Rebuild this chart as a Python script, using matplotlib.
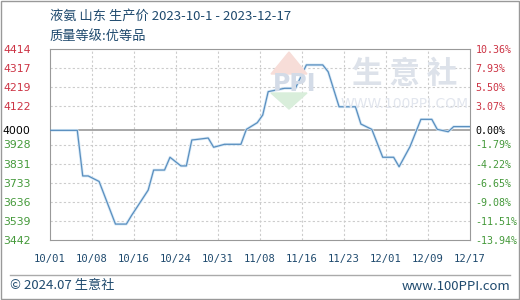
import numpy as np
import matplotlib.pyplot as plt
from matplotlib.patches import Rectangle, Polygon
from matplotlib.lines import Line2D

plt.rcParams['font.family'] = ['Noto Sans CJK SC', 'DejaVu Sans']

# 数据 (day offset from 2023-10-01, price)
days = [0, 5, 6, 7, 9, 12, 14, 15, 16, 18, 19, 21, 22, 24, 25, 26, 27, 29, 30,
        32, 35, 36, 38, 39, 40, 43, 45, 47, 50, 51, 53, 56, 57, 59, 61, 63, 64,
        66, 68, 70, 71, 73, 74, 77]
prices = [4000, 4000, 3768, 3768, 3740, 3523, 3523, 3569, 3611, 3696, 3798, 3798,
          3863, 3819, 3819, 3951, 3954, 3961, 3914, 3929, 3929, 4005, 4039, 4078,
          4197, 4214, 4214, 4333, 4333, 4298, 4120, 4120, 4032, 4005, 3863, 3863,
          3815, 3917, 4056, 4056, 4005, 3993, 4019, 4019]
base = 4000
ytick_vals = [4414, 4317, 4219, 4122, 4000, 3928, 3831, 3733, 3636, 3539, 3442]
pct_labels = ['10.36%', '7.93%', '5.50%', '3.07%', '0.00%', '-1.79%', '-4.22%',
              '-6.65%', '-9.08%', '-11.51%', '-13.94%']
xtick_labels = ['10/01', '10/08', '10/16', '10/24', '10/31', '11/08', '11/16',
                '11/23', '12/01', '12/09', '12/17']

red = '#cc3344'
green = '#44993a'
navy = '#1f4a6e'

fig = plt.figure(figsize=(5.2, 3.0), dpi=100)
fig.patch.set_facecolor('white')
fig.add_artist(Rectangle((0.001, 0.002), 0.997, 0.995, transform=fig.transFigure,
                         fill=False, edgecolor='#999999', lw=1))
fig.add_artist(Line2D([10 / 520, 510 / 520], [25 / 300, 25 / 300],
                      transform=fig.transFigure, color='#aaaaaa', lw=1))

ax = fig.add_axes([50 / 520, 60 / 300, 420 / 520, 191 / 300])
xticks = np.linspace(0, 77, 11)
ax.set_xlim(0, 77)
ax.set_ylim(3442, 4414)

for x in xticks[1:-1]:
    ax.axvline(x, color='#cccccc', lw=0.8, ls=(0, (2, 2)), zorder=0)
for y in ytick_vals[1:-1]:
    if y != base:
        ax.axhline(y, color='#cccccc', lw=0.8, ls=(0, (2, 2)), zorder=0)
ax.axhline(base, color='#999999', lw=1.2, zorder=1)

# watermark
fig.add_artist(Polygon([[271 / 520, 1 - 74 / 300], [307 / 520, 1 - 74 / 300],
                        [289 / 520, 1 - 52 / 300]], closed=True,
                       transform=fig.transFigure, color='#f7ddd8', zorder=0.5))
fig.add_artist(Polygon([[271 / 520, 1 - 93 / 300], [307 / 520, 1 - 93 / 300],
                        [289 / 520, 1 - 109 / 300]], closed=True,
                       transform=fig.transFigure, color='#d9eedb', zorder=0.5))
fig.text(295 / 520, 1 - 84 / 300, 'PPI', color='#d3dbe7', fontsize=17,
         fontweight='bold', ha='center', va='center', family='DejaVu Sans', zorder=0.6)
fig.text(405 / 520, 1 - 74 / 300, '生 意 社', color='#dde2ea', fontsize=22,
         fontweight='bold', ha='center', va='center', zorder=0.6)
fig.text(405 / 520, 1 - 104 / 300, 'WWW.100PPI.COM', color='#e2e6ee', fontsize=10,
         ha='center', va='center', family='DejaVu Sans', zorder=0.6)

ax.plot(days, prices, color='#d6e8f6', lw=2.0, zorder=2)
ax.plot(days, prices, color='#5a8fbf', lw=0.9, zorder=3)

for s in ax.spines.values():
    s.set_color('#999999')
ax.set_xticks(xticks)
ax.set_xticklabels(xtick_labels, family='DejaVu Sans Mono', fontsize=7.6, color=navy)
ax.tick_params(axis='x', length=0, pad=10)

ax.set_yticks(ytick_vals)
ax.set_yticklabels([str(v) for v in ytick_vals], family='DejaVu Sans', fontsize=7.8)
ax.tick_params(axis='y', length=0, pad=14)
for v, lab in zip(ytick_vals, ax.get_yticklabels()):
    lab.set_color(red if v > base else ('black' if v == base else green))

ax2 = ax.twinx()
ax2.set_ylim(ax.get_ylim())
ax2.set_yticks(ytick_vals)
ax2.set_yticklabels(pct_labels, family='DejaVu Sans Mono', fontsize=7.2)
ax2.tick_params(axis='y', length=0, pad=4)
for v, lab in zip(ytick_vals, ax2.get_yticklabels()):
    lab.set_color(red if v > base else ('black' if v == base else green))
for s in ax2.spines.values():
    s.set_visible(False)

fig.text(50 / 520, 1 - 16 / 300, '液氨 山东 生产价 2023-10-1 - 2023-12-17',
         color=navy, fontsize=9.5, va='center')
fig.text(50 / 520, 1 - 36 / 300, '质量等级:优等品', color=navy, fontsize=9.5,
         va='center')
fig.text(10 / 520, 14 / 300, '© 2024.07 生意社', color=navy, fontsize=9.5,
         va='center')
fig.text(510 / 520, 14 / 300, 'www.100PPI.com', color=navy, fontsize=9.5,
         va='center', ha='right')

fig.savefig('out.png', dpi=100)
